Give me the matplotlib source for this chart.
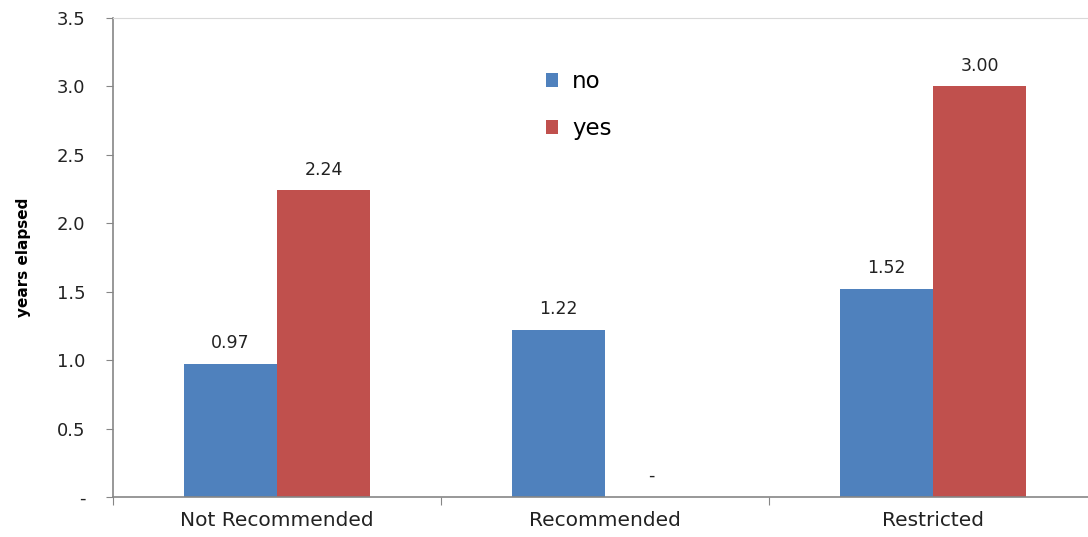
import numpy as np
import matplotlib
matplotlib.use("Agg")
import matplotlib.pyplot as plt
from matplotlib.ticker import FuncFormatter

categories = ["Not Recommended", "Recommended", "Restricted"]
no_vals = [0.97, 1.22, 1.52]
yes_vals = [2.24, 0.0, 3.00]
series_names = ["no", "yes"]
colors = ["#4F81BD", "#C0504D"]

fig = plt.figure(figsize=(10.88, 5.37), dpi=100)
# axes run a little past the right edge, like the original export
ax = fig.add_axes([113 / 1088, 1 - 497 / 537, 984 / 1088, 479 / 537])

x = np.arange(len(categories))
w = 0.285
bars_no = ax.bar(x - w / 2, no_vals, w, color=colors[0], label=series_names[0])
bars_yes = ax.bar(x + w / 2, yes_vals, w, color=colors[1], label=series_names[1])

def fmt_val(v):
    return "-" if v == 0 else f"{v:.2f}"

for bars, vals in [(bars_no, no_vals), (bars_yes, yes_vals)]:
    for b, v in zip(bars, vals):
        ax.annotate(fmt_val(v), (b.get_x() + b.get_width() / 2, v),
                    xytext=(0, 15), textcoords="offset points",
                    ha="center", va="center", fontsize=12.5, color="#222222")

ax.set_xlim(-0.5, 2.5)
ax.set_ylim(0, 3.5)
ax.set_yticks(np.arange(0, 3.51, 0.5))
ax.yaxis.set_major_formatter(FuncFormatter(lambda v, p: "-" if v == 0 else f"{v:.1f}"))
ax.set_xticks([-0.5, 0.5, 1.5, 2.5])
ax.set_xticklabels([])
ax.set_xticks(x, minor=True)
ax.set_xticklabels(categories, minor=True)
ax.tick_params(axis="x", which="minor", length=0, pad=10, labelsize=14.5,
               labelcolor="#222222")
ax.tick_params(axis="x", which="major", length=6, color="#868686")
ax.tick_params(axis="y", length=5, color="#868686", labelsize=13, pad=15,
               labelcolor="#222222")

for s in ["left", "bottom"]:
    ax.spines[s].set_color("#868686")
    ax.spines[s].set_linewidth(1.2)
ax.spines["top"].set_color("#d9d9d9")
ax.spines["right"].set_visible(False)

ax.set_ylabel("years elapsed", fontsize=11, fontweight="bold",
              family="Liberation Sans Narrow", labelpad=18)

ax.legend(loc="upper left", bbox_to_anchor=(412 / 984, 0.935), frameon=False,
          fontsize=16.5, handlelength=0.55, handleheight=0.55, labelspacing=1.05,
          handletextpad=0.6)

fig.savefig("out.png", dpi=100)
